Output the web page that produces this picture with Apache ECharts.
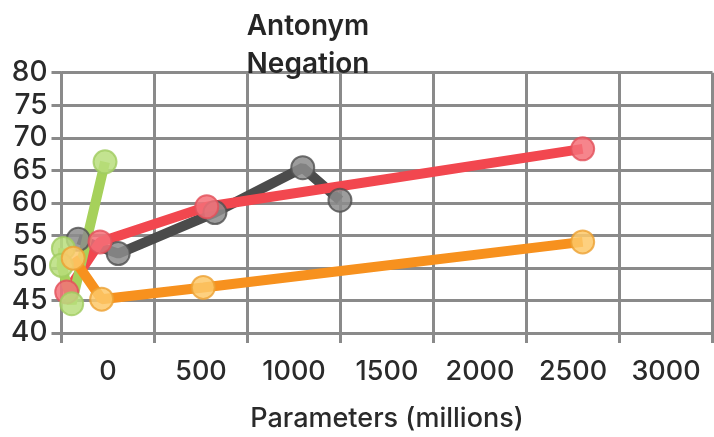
<!DOCTYPE html>
<html>
<head>
<meta charset="utf-8">
<script src="https://cdn.jsdelivr.net/npm/echarts@6/dist/echarts.min.js"></script>
<style>
  html, body { margin: 0; padding: 0; background: #fff; }
  #chart { width: 714px; height: 437px; }
</style>
</head>
<body>
<div id="chart"></div>
<script>
// values: [parameters (millions), score]
var blackSeries = [[90, 54.4], [305, 52.2], [825, 58.5], [1297, 65.4], [1497, 60.4]];
var redSeries = [[28, 46.3], [207, 54.0], [781, 59.4], [2802, 68.3]];
var greenSeries = [[10, 53.0], [0, 50.4], [55, 44.5], [234, 66.3]];
var orangeSeries = [[63, 51.5], [216, 45.2], [762, 47.0], [2802, 54.0]];
var xTickLabels = ["0", "500", "1000", "1500", "2000", "2500", "3000"];

var font = "Inter, 'Noto Sans', sans-serif";

function mkSeries(data, line, fill, border) {
  return {
    type: "line",
    data: data,
    symbol: "circle",
    symbolSize: 23,
    lineStyle: { color: line, width: 10 },
    itemStyle: { color: fill, borderColor: border, borderWidth: 2 },
    emphasis: { disabled: true }
  };
}

var mycharts = echarts.init(document.getElementById("chart"));
mycharts.setOption({
  animation: false,
  backgroundColor: "#fff",
  title: {
    text: "Antonym\nNegation",
    left: 303,
    top: 3,
    textAlign: "center",
    textStyle: { fontFamily: font, fontSize: 28, fontWeight: 600, color: "#262626", lineHeight: 38 }
  },
  grid: { left: 61.5, right: 1.5, top: 72.7, bottom: 100.3 },
  xAxis: {
    type: "value",
    min: 0,
    max: 3500,
    interval: 500,
    name: "Parameters (millions)",
    nameLocation: "middle",
    nameGap: 72,
    nameTextStyle: { fontFamily: font, fontSize: 27, fontWeight: 500, color: "#2a2a2a" },
    axisLine: { lineStyle: { color: "#8a8a8a", width: 3 } },
    axisTick: { show: true, length: 10, lineStyle: { color: "#8a8a8a", width: 3 } },
    splitLine: { show: true, lineStyle: { color: "#8a8a8a", width: 3 } },
    axisLabel: {
      customValues: xTickLabels.map(function (t, i) { return 250 + 500 * i; }),
      formatter: function (v) { return xTickLabels[Math.round((v - 250) / 500)]; },
      fontFamily: font,
      fontSize: 27,
      fontWeight: 500,
      color: "#2a2a2a",
      margin: 25
    }
  },
  yAxis: {
    type: "value",
    min: 40,
    max: 80,
    interval: 5,
    axisLine: { show: true, lineStyle: { color: "#8a8a8a", width: 3 } },
    axisTick: { show: true, length: 10, lineStyle: { color: "#8a8a8a", width: 3 } },
    splitLine: { show: true, lineStyle: { color: "#8a8a8a", width: 3 } },
    axisLabel: { fontFamily: font, fontSize: 28, fontWeight: 500, color: "#2a2a2a", margin: 14 }
  },
  series: [
    mkSeries(blackSeries, "#4b4b4b", "rgba(140,140,140,0.85)", "rgba(80,80,80,0.8)"),
    mkSeries(redSeries, "#f2474f", "rgba(244,112,120,0.85)", "rgba(226,80,90,0.8)"),
    mkSeries(greenSeries, "#a6d15b", "rgba(184,222,124,0.85)", "rgba(160,204,96,0.8)"),
    mkSeries(orangeSeries, "#f7911e", "rgba(253,200,104,0.85)", "rgba(236,160,50,0.8)")
  ]
});
</script>
</body>
</html>
